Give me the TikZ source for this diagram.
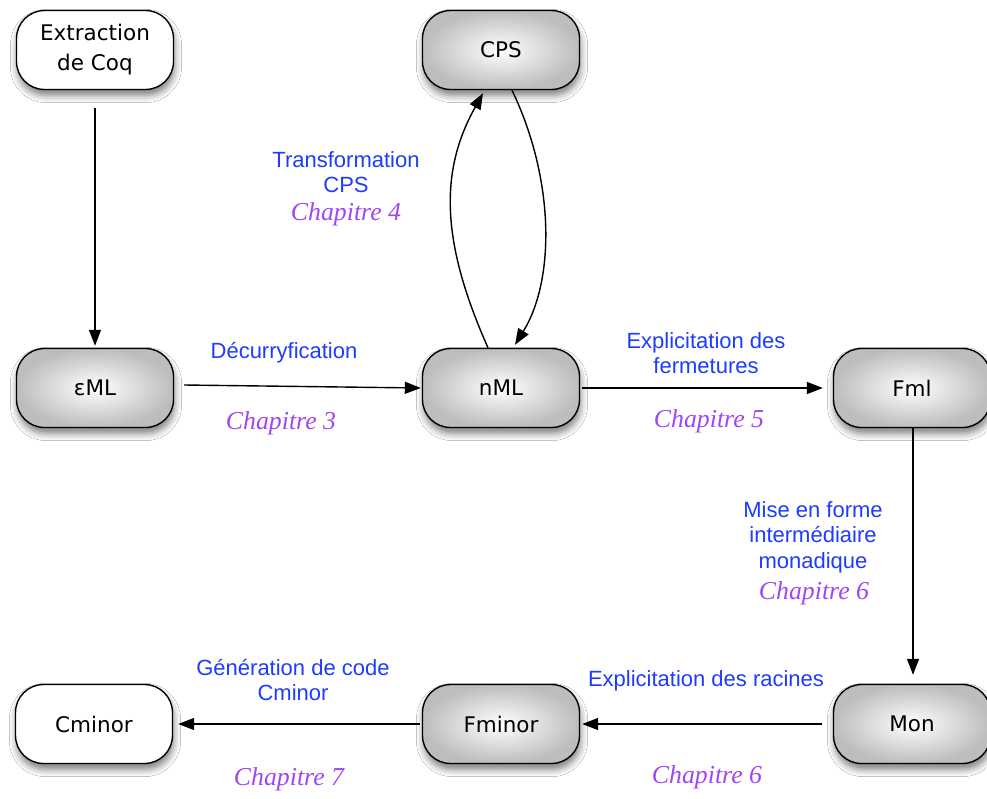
\documentclass[tikz,border=0pt]{standalone}
\usepackage{fontspec}
\newfontfamily\nodefont{DejaVu Sans}
\newfontfamily\lblfont{Liberation Sans}
\newfontfamily\chapfont{Liberation Serif}
\usetikzlibrary{arrows.meta,shadows.blur}
\definecolor{lblue}{RGB}{30,60,255}
\definecolor{lpurple}{RGB}{160,70,245}
\begin{document}
\begin{tikzpicture}[x=1pt,y=-1pt,
  base/.style={rectangle, rounded corners=28pt, minimum width=157pt, minimum height=79pt,
    draw=black, line width=1.4pt, align=center,
    font=\nodefont\fontsize{21.5}{30}\selectfont,
    blur shadow={shadow xshift=1pt, shadow yshift=-6pt, shadow blur radius=7pt, shadow opacity=50}},
  graybox/.style={base, shading=radial, inner color=white, outer color=black!26},
  whitebox/.style={base, fill=white},
  blbl/.style={text=lblue, align=center, font=\lblfont\fontsize{22}{25.5}\selectfont},
  chap/.style={text=lpurple, font=\chapfont\itshape\fontsize{25.8}{28}\selectfont},
  arr/.style={-{Triangle[length=16pt,width=12pt]}, line width=1.4pt}]
\useasboundingbox (0,0) rectangle (987,798);
\fill[white] (0,0) rectangle (987,798);

% nodes
\node[whitebox] (extr) at (95,50) {Extraction\\de Coq};
\node[graybox] (cps) at (501,50) {CPS};
\node[graybox] (eml) at (95,388) {εML};
\node[graybox] (nml) at (501,388) {nML};
\node[graybox] (fml) at (912,388) {Fml};
\node[graybox] (mon) at (912,724) {Mon};
\node[graybox] (fminor) at (501,724) {Fminor};
\node[whitebox] (cminor) at (94,724) {Cminor};

% labels
\node[blbl] (tcps) at (346,172) {Transformation\\CPS};
\node[chap] (ch4) at (346,214) {Chapitre 4};
\node[blbl] (dec) at (284,353) {Décurryfication};
\node[chap] (ch3) at (281,423) {Chapitre 3};
\node[blbl] (expf) at (706,353) {Explicitation des\\fermetures};
\node[chap] (ch5) at (709,421) {Chapitre 5};
\node[blbl] (mise) at (813,537) {Mise en forme\\intermédiaire\\monadique};
\node[chap] (ch6a) at (814,593) {Chapitre 6};
\node[blbl] (gen) at (293,680) {Génération de code\\Cminor};
\node[chap] (ch7) at (289,779) {Chapitre 7};
\node[blbl] (expr) at (706,681) {Explicitation des racines};
\node[chap] (ch6b) at (707,777) {Chapitre 6};

% connectors
\draw[arr] ([yshift=-18pt]extr.south) -- ([yshift=2pt]eml.north);
\draw[arr] ([xshift=10pt,yshift=3pt]eml.east) -- ([xshift=-1pt]nml.west);
\draw[arr] ([xshift=2pt]nml.east) -- ([xshift=-10pt]fml.west);
\draw[arr] ([xshift=1pt]fml.south) -- ([xshift=1pt,yshift=9pt]mon.north);
\draw[arr] ([xshift=-11pt]mon.west) -- ([xshift=2pt]fminor.east);
\draw[arr] ([xshift=-2pt]fminor.west) -- ([xshift=5pt]cminor.east);
\draw[arr] ([xshift=-13pt]nml.north) .. controls (440,240) and (440,170) .. ([xshift=-18pt,yshift=-3pt]cps.south);
\draw[arr] ([xshift=11pt]cps.south) .. controls (555,180) and (555,280) .. ([xshift=14pt,yshift=3pt]nml.north);
\end{tikzpicture}
\end{document}
